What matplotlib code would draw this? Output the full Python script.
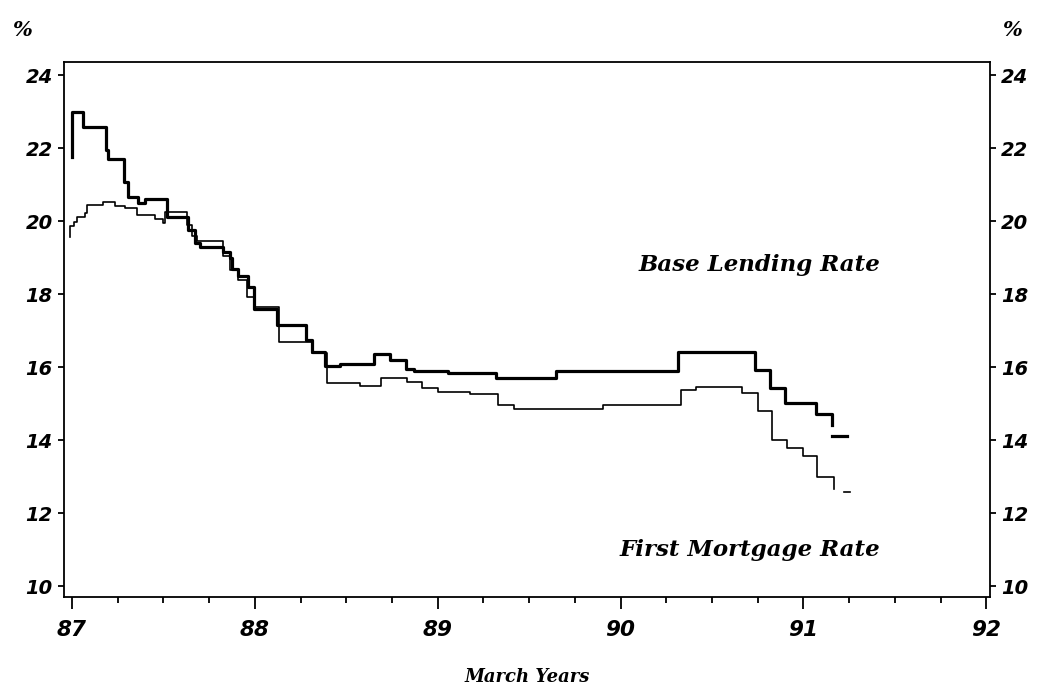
import numpy as np
import matplotlib
matplotlib.use("Agg")
import matplotlib.pyplot as plt
from matplotlib.ticker import MultipleLocator

# Base Lending Rate (thick line), step changes: year, percent
blr_x = [87.000, 87.000, 87.059, 87.184, 87.197, 87.284, 87.306, 87.361, 87.399,
         87.521, 87.635, 87.673, 87.700, 87.826, 87.864, 87.875, 87.908, 87.963,
         87.996, 88.121, 88.280, 88.313, 88.384, 88.466, 88.652, 88.740, 88.827,
         88.871, 89.057, 89.319, 89.648, 90.315, 90.736, 90.818, 90.900, 91.070,
         91.158]
blr_y = [21.75, 23.00, 22.57, 21.95, 21.69, 21.08, 20.67, 20.50, 20.60,
         20.10, 19.75, 19.40, 19.28, 19.16, 19.00, 18.70, 18.50, 18.20,
         17.60, 17.15, 16.74, 16.42, 16.02, 16.08, 16.36, 16.19, 15.96,
         15.88, 15.84, 15.69, 15.90, 16.40, 15.92, 15.42, 15.02, 14.71,
         14.41]
blr_tail_x = [91.158, 91.240]
blr_tail_y = [14.10, 14.10]

# First Mortgage Rate (thin line)
fmr_x = [86.991, 86.991, 87.011, 87.029, 87.071, 87.080, 87.170, 87.235, 87.290,
         87.356, 87.454, 87.498, 87.509, 87.629, 87.655, 87.684, 87.826, 87.864,
         87.908, 87.957, 87.996, 88.132, 88.311, 88.395, 88.575, 88.690, 88.833,
         88.915, 89.002, 89.177, 89.330, 89.418, 89.905, 90.330, 90.414, 90.664,
         90.749, 90.828, 90.910, 90.997, 91.077, 91.165]
fmr_y = [19.57, 19.86, 19.98, 20.12, 20.22, 20.44, 20.53, 20.40, 20.35,
         20.16, 20.07, 19.94, 20.26, 19.90, 19.60, 19.45, 19.05, 18.66,
         18.38, 17.93, 17.65, 16.68, 16.38, 15.56, 15.47, 15.70, 15.58,
         15.43, 15.32, 15.27, 14.97, 14.86, 14.97, 15.37, 15.46, 15.28,
         14.80, 14.00, 13.79, 13.55, 12.98, 12.65]
fmr_tail_x = [91.223, 91.256]
fmr_tail_y = [12.58, 12.58]

year_ticks = [87, 88, 89, 90, 91, 92]
rate_ticks = [10, 12, 14, 16, 18, 20, 22, 24]

num_font = dict(family="DejaVu Sans", weight="bold", style="oblique")
txt_font = dict(family="DejaVu Serif", weight="bold", style="italic")

fig = plt.figure(figsize=(10.42, 6.94), dpi=100)
ax = fig.add_axes([0.0614, 0.1398, 0.8886, 0.7709])

ax.step(blr_x, blr_y, where="post", color="black", lw=2.3)
ax.plot(blr_tail_x, blr_tail_y, color="black", lw=2.3)
ax.step(fmr_x, fmr_y, where="post", color="black", lw=1.2)
ax.plot(fmr_tail_x, fmr_tail_y, color="black", lw=1.2)

ax.set_xlim(86.956, 92.02)
ax.set_ylim(9.70, 24.36)

ax.set_xticks(year_ticks)
ax.xaxis.set_minor_locator(MultipleLocator(0.25))
ax.set_yticks(rate_ticks)
ax.tick_params(axis="x", which="major", direction="out", length=8.5, width=1.3, pad=8)
ax.tick_params(axis="x", which="minor", direction="out", length=4.3, width=1.3)
ax.tick_params(axis="y", which="major", direction="out", length=4, width=1.3,
               left=True, right=True, labelleft=True, labelright=True, pad=4)
for lab in ax.get_xticklabels():
    lab.set(fontsize=15.5, **num_font)
for t in ax.yaxis.get_major_ticks():
    t.label1.set(fontsize=14, **num_font)
    t.label2.set(fontsize=14, **num_font)

for sp in ax.spines.values():
    sp.set_linewidth(1.3)

ax.set_xlabel("March Years", fontsize=13, labelpad=20, **txt_font)

ax.text(91.42, 18.79, "Base Lending Rate", ha="right", va="center", fontsize=16.5, **txt_font)
ax.text(91.42, 10.99, "First Mortgage Rate", ha="right", va="center", fontsize=16.5, **txt_font)

fig.text(22 / 1042, 1 - 30 / 694, "%", ha="center", va="center", fontsize=15, **txt_font)
fig.text(1012 / 1042, 1 - 30 / 694, "%", ha="center", va="center", fontsize=15, **txt_font)

fig.savefig("out.png", dpi=100)
